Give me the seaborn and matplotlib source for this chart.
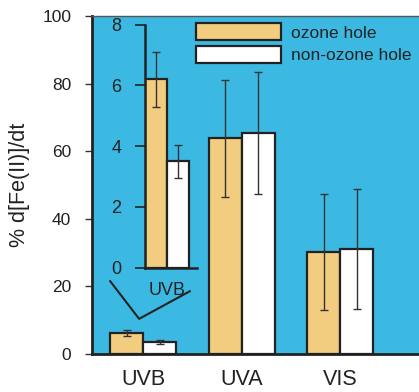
import matplotlib
matplotlib.use("Agg")
import matplotlib.pyplot as plt
import seaborn as sns
import pandas as pd
import numpy as np

# ---- data ----
categories = ["UVB", "UVA", "VIS"]
series = ["ozone hole", "non-ozone hole"]
ozone_vals = [6.2, 63.8, 30.1]
nonozone_vals = [3.5, 65.3, 31.0]
ozone_err = [0.9, 17.3, 17.1]
nonozone_err = [0.55, 18.1, 17.8]
main_yticks = [0, 20, 40, 60, 80, 100]
inset_yticks = [0, 2, 4, 6, 8]
# zoom indicator polyline (main-axes data coords)
zoom_line_x = [-0.335, -0.04, 0.477]
zoom_line_y = [21.6, 10.4, 18.6]

BLUE = "#3BB9E3"
TAN = "#F2CD80"
EDGE = "#222222"
TXT = "#222222"

sns.set_style("white")
plt.rcParams["font.family"] = ["Liberation Sans", "DejaVu Sans"]

df = pd.DataFrame({
    "band": categories * 2,
    "kind": [series[0]] * 3 + [series[1]] * 3,
    "val": ozone_vals + nonozone_vals,
    "err": ozone_err + nonozone_err,
})

fig = plt.figure(figsize=(4.19, 3.92), dpi=100)
W, H = 419, 392
ax = fig.add_axes([92 / W, (H - 354) / H, (419 - 92) / W, (354 - 16) / H])
ax.set_facecolor(BLUE)

sns.barplot(data=df, x="band", y="val", hue="kind", order=categories,
            hue_order=series, palette=[TAN, "white"], width=0.67,
            edgecolor=EDGE, linewidth=1.6, errorbar=None, ax=ax, saturation=1)

# error bars at bar centers
bars = [p for p in ax.patches if p.get_height() > 0]
xs, ys, es = [], [], []
for i, kind in enumerate(series):
    vals = ozone_vals if i == 0 else nonozone_vals
    errs = ozone_err if i == 0 else nonozone_err
    for j in range(3):
        p = bars[i * 3 + j]
        xs.append(p.get_x() + p.get_width() / 2)
        ys.append(vals[j])
        es.append(errs[j])
ax.errorbar(xs, ys, yerr=es, fmt="none", ecolor="#333333", elinewidth=1.0,
            capsize=2.8, capthick=1.0, zorder=5)

ax.set_xlim(-0.518, 2.80)
ax.set_ylim(0, 100)
ax.set_yticks(main_yticks)
ax.set_xlabel("")
ax.set_ylabel("% d[Fe(II)]/dt", fontsize=15.5, color=TXT, labelpad=9)
ax.tick_params(axis="y", length=5, width=1, color="#333333", pad=10,
               labelsize=12.5, labelcolor=TXT, left=True, direction="out")
ax.tick_params(axis="x", length=0, pad=11, labelsize=15.5, labelcolor=TXT)
for s in ["left", "bottom"]:
    ax.spines[s].set_color(EDGE)
    ax.spines[s].set_linewidth(2.0)
ax.spines["right"].set_visible(False)
ax.spines["top"].set_color("#555555")
ax.spines["top"].set_linewidth(1.0)

leg = ax.legend(loc="upper left", bbox_to_anchor=(0.318, 0.979), frameon=False,
                borderpad=0, borderaxespad=0, handlelength=4.9, handleheight=1.15,
                handletextpad=0.55, labelspacing=0.3, fontsize=12.5)
for t in leg.get_texts():
    t.set_color(TXT)

ax.plot(zoom_line_x, zoom_line_y, color=EDGE, lw=1.5, zorder=6, clip_on=False)

# ---- inset ----
ins = fig.add_axes([145 / W, (H - 267.7) / H, 52 / W, 243 / H])
ins.patch.set_alpha(0)
dfi = df[df["band"] == "UVB"]
sns.barplot(data=dfi, x="band", y="val", hue="kind", hue_order=series,
            palette=[TAN, "white"], width=0.8, edgecolor=EDGE, linewidth=1.6,
            errorbar=None, ax=ins, saturation=1, legend=False)
ibars = [p for p in ins.patches if p.get_height() > 0]
ix = [p.get_x() + p.get_width() / 2 for p in ibars]
ins.errorbar(ix, [ozone_vals[0], nonozone_vals[0]], yerr=[ozone_err[0], nonozone_err[0]],
             fmt="none", ecolor="#333333", elinewidth=1.0, capsize=2.8, capthick=1.0, zorder=5)
ins.set_xlim(-0.4, 0.545)
ins.set_ylim(0, 8)
ins.set_yticks(inset_yticks)
ins.set_xlabel("")
ins.set_ylabel("")
ins.tick_params(axis="y", length=7, width=1.2, color=EDGE, pad=10,
                labelsize=13, labelcolor=TXT, left=True, direction="out")
ins.tick_params(axis="x", length=0, pad=10, labelsize=13, labelcolor=TXT)
for s in ["left", "bottom"]:
    ins.spines[s].set_color(EDGE)
    ins.spines[s].set_linewidth(1.8)
for s in ["top", "right"]:
    ins.spines[s].set_visible(False)

fig.savefig("out.png", dpi=100)
